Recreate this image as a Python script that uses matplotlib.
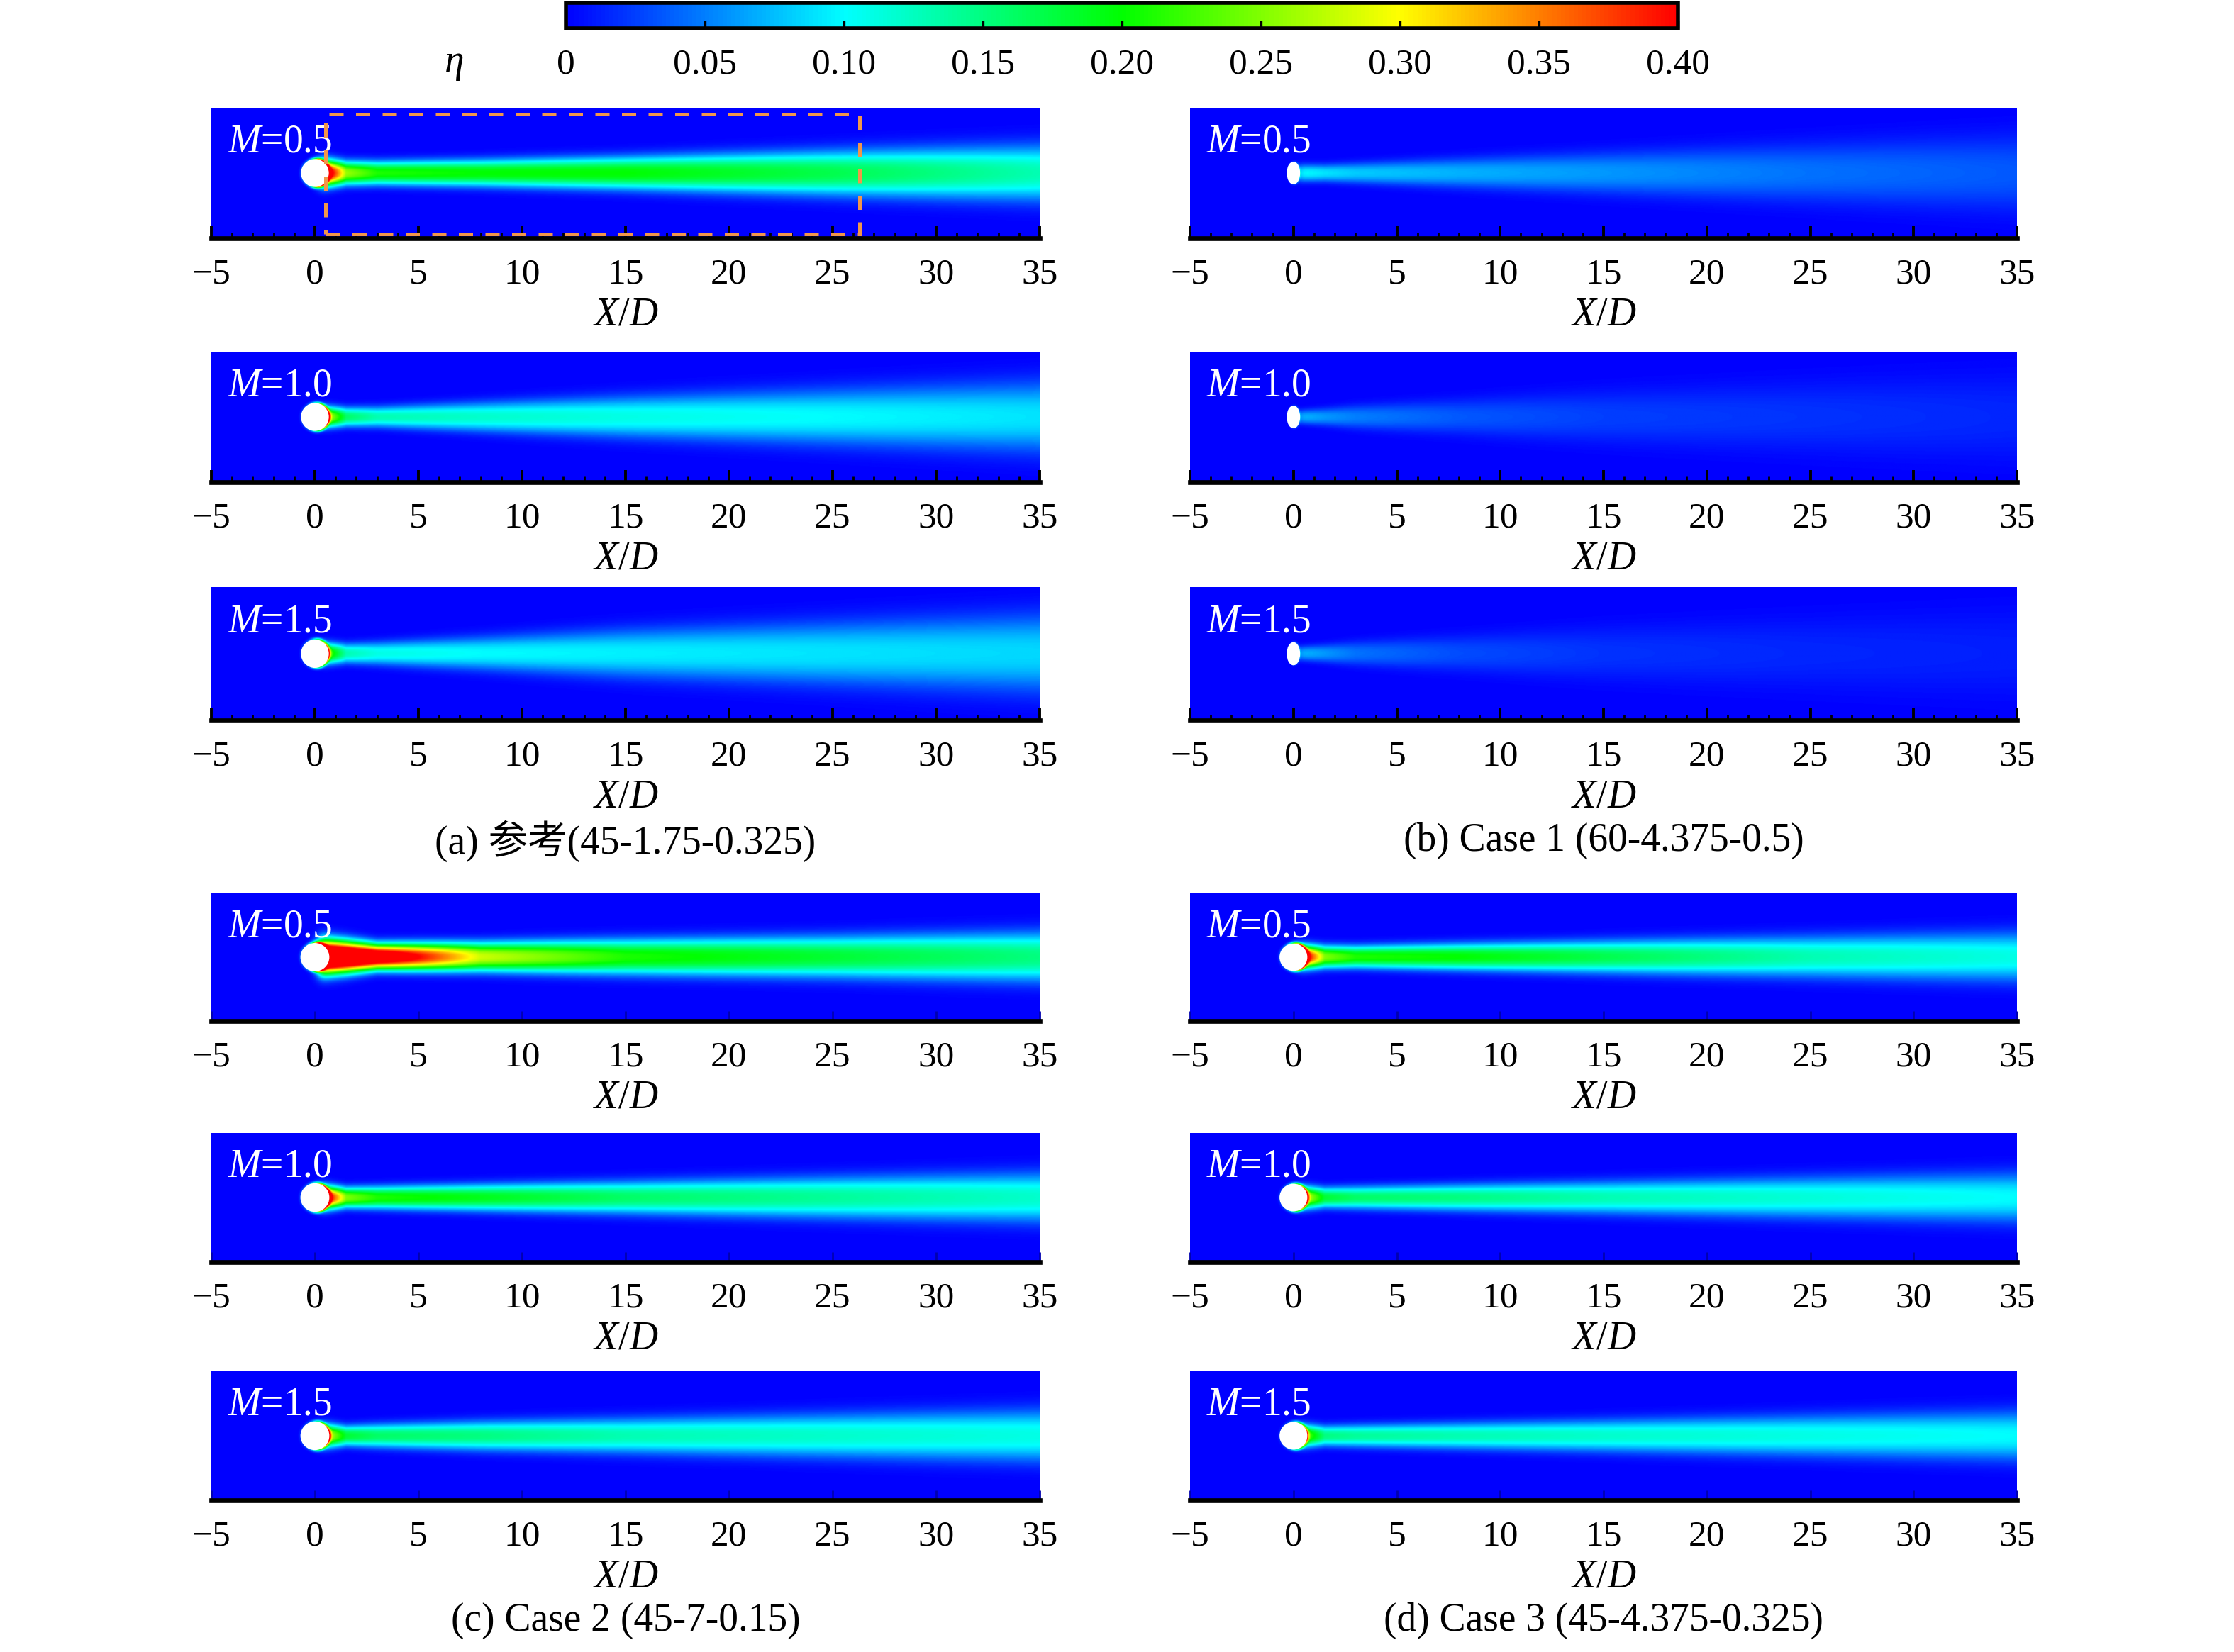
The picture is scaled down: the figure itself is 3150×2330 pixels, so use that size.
import numpy as np
import matplotlib.pyplot as plt
from matplotlib.colors import LinearSegmentedColormap, Normalize
from matplotlib.patches import Ellipse, Rectangle
from matplotlib.ticker import MultipleLocator
import matplotlib.cm as cm

plt.rcParams['font.family'] = ['Liberation Serif', 'Noto Sans CJK SC']
plt.rcParams['mathtext.fontset'] = 'custom'
plt.rcParams['mathtext.rm'] = 'Liberation Serif'
plt.rcParams['mathtext.it'] = 'Liberation Serif:italic'

# estacoes ao longo de X/D onde os valores foram lidos
X_ST = [0.5, 1.5, 3, 8, 15, 25, 35]
M_LABELS = ['0.5', '1.0', '1.5']
CAPTIONS = ['(a) 参考(45-1.75-0.325)', '(b) Case 1 (60-4.375-0.5)',
            '(c) Case 2 (45-7-0.15)', '(d) Case 3 (45-4.375-0.325)']
CBAR_TICKS = [0, 0.05, 0.10, 0.15, 0.20, 0.25, 0.30, 0.35, 0.40]
CBAR_LABELS = ['0', '0.05', '0.10', '0.15', '0.20', '0.25', '0.30', '0.35', '0.40']
XTICKS = [-5, 0, 5, 10, 15, 20, 25, 30, 35]

# eta na linha central (linhas: M=0.5, 1.0, 1.5)
ETA_A = [[0.48, 0.26, 0.21, 0.20, 0.20, 0.17, 0.13],
         [0.30, 0.16, 0.13, 0.12, 0.11, 0.10, 0.09],
         [0.25, 0.13, 0.11, 0.10, 0.095, 0.09, 0.085]]
ETA_B = [[0.10, 0.09, 0.08, 0.07, 0.06, 0.045, 0.035],
         [0.07, 0.06, 0.05, 0.035, 0.025, 0.02, 0.015],
         [0.07, 0.06, 0.045, 0.03, 0.02, 0.015, 0.012]]
ETA_C = [[0.60, 0.55, 0.48, 0.28, 0.21, 0.18, 0.15],
         [0.45, 0.25, 0.21, 0.19, 0.16, 0.14, 0.12],
         [0.30, 0.18, 0.16, 0.15, 0.13, 0.12, 0.11]]
ETA_D = [[0.45, 0.25, 0.21, 0.20, 0.17, 0.13, 0.11],
         [0.30, 0.18, 0.16, 0.15, 0.13, 0.115, 0.10],
         [0.25, 0.15, 0.14, 0.13, 0.12, 0.11, 0.10]]

# largura (sigma, em D) do jato
SIG_A = [[0.45, 0.40, 0.40, 0.45, 0.55, 0.75, 0.95],
         [0.35, 0.33, 0.35, 0.50, 0.70, 0.95, 1.20],
         [0.35, 0.33, 0.38, 0.55, 0.80, 1.05, 1.30]]
SIG_B = [[0.30, 0.30, 0.35, 0.50, 0.70, 1.00, 1.30],
         [0.25, 0.30, 0.40, 0.60, 0.90, 1.20, 1.50],
         [0.25, 0.30, 0.40, 0.60, 0.90, 1.20, 1.50]]
SIG_C = [[0.60, 0.55, 0.45, 0.50, 0.60, 0.70, 0.85],
         [0.40, 0.35, 0.38, 0.45, 0.55, 0.70, 0.85],
         [0.40, 0.35, 0.40, 0.50, 0.60, 0.75, 0.90]]
SIG_D = [[0.40, 0.38, 0.38, 0.45, 0.55, 0.70, 0.85],
         [0.38, 0.35, 0.38, 0.45, 0.55, 0.70, 0.85],
         [0.38, 0.35, 0.38, 0.45, 0.55, 0.70, 0.85]]

# valor na borda do furo
RIM = [[0.45, 0.30, 0.25], [0.06, 0.05, 0.05], [0.45, 0.35, 0.25], [0.40, 0.30, 0.22]]
HOLE_W = [1.25, 0.55, 1.3, 1.25]
HOLE_H = [1.25, 1.0, 1.3, 1.25]

ETA = [ETA_A, ETA_B, ETA_C, ETA_D]
SIG = [SIG_A, SIG_B, SIG_C, SIG_D]

# posicoes (pixels da imagem em meia escala 1575x1165)
W, H = 1575.0, 1165.0
COL_X = [(149, 733), (839, 1422)]
ROWS_TOP = [(76, 168), (248, 340), (414, 508)]
ROWS_BOT = [(630, 720), (799, 890), (967, 1058)]

cmap = LinearSegmentedColormap.from_list(
    'tec', [(0, '#0000ff'), (0.25, '#00ffff'), (0.5, '#00ff00'),
            (0.75, '#ffff00'), (1.0, '#ff0000')])
norm = Normalize(0, 0.4)
YLIM = 3.15


def rect(x0, y0, x1, y1):
    return [x0 / W, 1 - y1 / H, (x1 - x0) / W, (y1 - y0) / H]


def campo(eta_c, sig, rim, hw, hh):
    xx = np.linspace(-5, 35, 900)
    yy = np.linspace(-YLIM, YLIM, 220)
    X, Y = np.meshgrid(xx, yy)
    c = np.interp(X, X_ST, eta_c)
    s = np.interp(X, X_ST, sig)
    ramp = 1 / (1 + np.exp(-(X - 0.15) / 0.12))
    eta = c * np.exp(-0.5 * np.abs(Y / s) ** 2.4) * ramp
    r = np.sqrt((X / (hw / 2)) ** 2 + (Y / (hh / 2)) ** 2)
    eta += rim * np.exp(-((r - 1.0) / 0.18) ** 2) * (0.55 + 0.45 * np.tanh(X / 0.3))
    return eta


fig = plt.figure(figsize=(15.75, 11.65), dpi=200)

for p in range(4):
    cx = COL_X[p % 2]
    rows = ROWS_TOP if p < 2 else ROWS_BOT
    for i in range(3):
        y0, y1 = rows[i]
        ax = fig.add_axes(rect(cx[0], y0, cx[1], y1))
        eta = campo(ETA[p][i], SIG[p][i], RIM[p][i], HOLE_W[p], HOLE_H[p])
        ax.imshow(eta, cmap=cmap, norm=norm, origin='lower', aspect='auto',
                  extent=[-5, 35, -YLIM, YLIM], interpolation='bilinear')
        ax.add_patch(Ellipse((0, 0), HOLE_W[p], HOLE_H[p], color='white', zorder=3))
        ax.set_xlim(-5, 35)
        ax.set_ylim(-YLIM, YLIM)
        ax.set_yticks([])
        for s in ['top', 'left', 'right']:
            ax.spines[s].set_visible(False)
        ax.spines['bottom'].set_linewidth(2.4)
        ax.set_xticks(XTICKS)
        ax.set_xticklabels([str(t).replace('-', '\u2212') for t in XTICKS])
        if p < 2:
            ax.xaxis.set_minor_locator(MultipleLocator(1))
            ax.tick_params(axis='x', which='major', direction='in', length=6, width=1.4,
                           labelsize=18.5, pad=10)
            ax.tick_params(axis='x', which='minor', direction='in', length=3, width=1.0)
        else:
            ax.tick_params(axis='x', which='major', direction='in', length=5, width=1.0,
                           color='#0000b0', labelcolor='black', labelsize=18.5, pad=10)
        ax.set_xlabel(r'$X/D$', fontsize=20, labelpad=3)
        ax.text(-4.2, 1.5, r'$M$=' + M_LABELS[i], color='white', fontsize=20,
                va='center', ha='left', zorder=4)
        if p == 0 and i == 0:
            ax.add_patch(Rectangle((0.5, -2.95), 25.8, 5.8, fill=False, edgecolor='#f0964b',
                                   linewidth=1.8, linestyle=(0, (4, 3.5)), zorder=5,
                                   clip_on=False))
    xc = (cx[0] + cx[1]) / 2 / W
    yc = 1 - (593 if p < 2 else 1143) / H
    fig.text(xc, yc, CAPTIONS[p], ha='center', va='center', fontsize=20,
             family=['Liberation Serif', 'Noto Sans CJK SC'])

# barra de cores
cax = fig.add_axes(rect(399, 2, 1183, 20))
sm = cm.ScalarMappable(norm=norm, cmap=cmap)
cb = fig.colorbar(sm, cax=cax, orientation='horizontal')
cb.set_ticks(CBAR_TICKS)
cb.set_ticklabels(CBAR_LABELS)
cb.outline.set_linewidth(2.0)
cax.tick_params(direction='in', length=4, width=1.2, labelsize=18.5, pad=10)
fig.text(320 / W, 1 - 45 / H, r'$\eta$', fontsize=20, ha='center', va='center')

fig.savefig('out.png', dpi=200)
